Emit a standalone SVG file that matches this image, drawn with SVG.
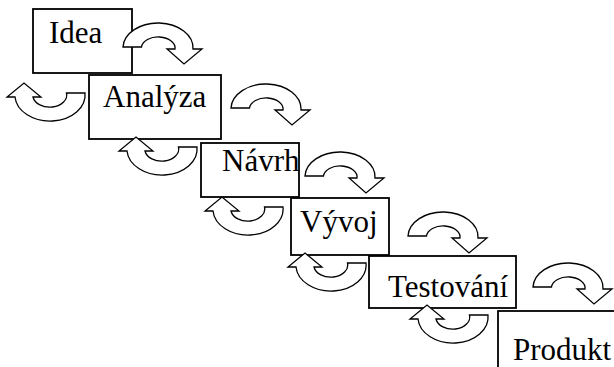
<svg xmlns="http://www.w3.org/2000/svg" width="614" height="367" viewBox="0 0 614 367">
<style>
.box{fill:#fff;stroke:#000;stroke-width:1.8}
.lbl{font-family:"Liberation Serif","Times New Roman",serif;font-size:31px;fill:#000}
.arr{fill:#fff;stroke:#000;stroke-width:1.3;stroke-linejoin:miter}
</style>
<defs>
<path id="cw" d="M0,0 A35,25 0 0 1 70,2 L79,2 L61,17 L44,2 L52,2 A16.75,11 0 0 0 18.5,0 Z"/>
<path id="ccw" d="M0,0 A35,26 0 0 1 -70,4 L-78,4 L-61,-10 L-44,4 L-52,4 A16.75,12 0 0 0 -18.5,0 Z"/>
</defs>
<rect width="614" height="367" fill="#fff"/>
<g id="idea"><rect class="box" x="33" y="9" width="99" height="64"/><text class="lbl" x="49" y="43">Idea</text></g>
<g id="analyza"><rect class="box" x="89" y="75" width="132" height="64"/><text class="lbl" x="103" y="107">Analýza</text></g>
<g id="navrh"><rect class="box" x="201" y="143" width="98" height="54"/><text class="lbl" x="222" y="171">Návrh</text></g>
<g id="vyvoj"><rect class="box" x="291" y="198" width="98" height="57"/><text class="lbl" x="300" y="232">Vývoj</text></g>
<g id="testovani"><rect class="box" x="369" y="256" width="147" height="52"/><text class="lbl" x="388" y="297">Testování</text></g>
<g id="produkt"><rect class="box" x="498" y="311" width="200" height="100"/><text class="lbl" x="513" y="360">Produkt</text></g>
<g id="connectors">
<use href="#cw" class="arr" transform="translate(123,47)"/>
<use href="#cw" class="arr" transform="translate(231,108)"/>
<use href="#cw" class="arr" transform="translate(305,176)"/>
<use href="#cw" class="arr" transform="translate(408,236)"/>
<use href="#cw" class="arr" transform="translate(533,287)"/>
<use href="#ccw" class="arr" transform="translate(85,93)"/>
<use href="#ccw" class="arr" transform="translate(197,147)"/>
<use href="#ccw" class="arr" transform="translate(283,207)"/>
<use href="#ccw" class="arr" transform="translate(366,263)"/>
<use href="#ccw" class="arr" transform="translate(488,315)"/>
</g>
</svg>
